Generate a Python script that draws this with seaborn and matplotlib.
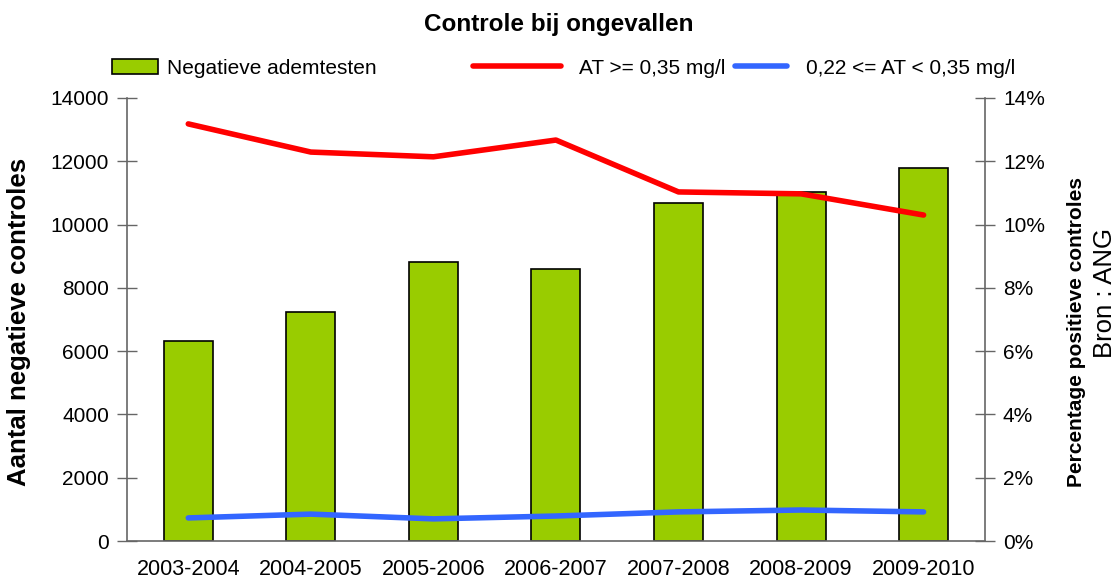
import numpy as np
import pandas as pd
import matplotlib
matplotlib.use("Agg")
import matplotlib.pyplot as plt
from matplotlib.patches import Patch
from matplotlib.lines import Line2D
from matplotlib.ticker import FuncFormatter, FixedLocator
import seaborn as sns

# --- data ---
seasons = ['2003-2004', '2004-2005', '2005-2006', '2006-2007',
           '2007-2008', '2008-2009', '2009-2010']
negative_tests = [6330, 7250, 8820, 8600, 10680, 11030, 11780]
pct_high = [13.18, 12.29, 12.14, 12.67, 11.03, 10.97, 10.30]   # AT >= 0,35 mg/l
pct_mid = [0.73, 0.85, 0.70, 0.79, 0.92, 0.98, 0.92]          # 0,22 <= AT < 0,35 mg/l

df = pd.DataFrame({'season': seasons, 'neg': negative_tests,
                   'high': pct_high, 'mid': pct_mid, 'pos': np.arange(len(seasons))})

sns.set_style('white')
plt.rcParams['font.family'] = ['Liberation Sans', 'DejaVu Sans']
plt.rcParams['text.color'] = 'black'
plt.rcParams['axes.labelcolor'] = 'black'

green = '#99CC00'
red = '#FF0000'
blue = '#3366FF'
axis_col = '#666666'

fig = plt.figure(figsize=(11.17, 5.83), dpi=100)
ax = fig.add_axes([0.1137, 0.072, 0.768, 0.760])

sns.barplot(data=df, x='season', y='neg', color=green, width=0.4,
            edgecolor='black', linewidth=1.2, saturation=1, ax=ax)
ax.set_xlim(-0.5, len(seasons) - 0.5)
ax.set_ylim(0, 14000)
ax.set_yticks(np.arange(0, 14001, 2000))
ax.set_xlabel('')
ax.set_ylabel('')

# x ticks at the category boundaries, labels in the middle
ax.xaxis.set_major_locator(FixedLocator(np.arange(-0.5, len(seasons), 1.0)))
ax.xaxis.set_minor_locator(FixedLocator(df['pos'].values))
ax.set_xticklabels([''] * (len(seasons) + 1))
ax.set_xticklabels(seasons, minor=True)
ax.tick_params(axis='x', which='major', direction='out', length=15, width=1, color=axis_col)
ax.tick_params(axis='x', which='minor', length=0, pad=13, labelsize=15.5, labelcolor='black')
ax.tick_params(axis='y', direction='inout', length=14, width=1, color=axis_col,
               labelsize=15, pad=6, labelcolor='black')

ax2 = ax.twinx()
sns.lineplot(data=df, x='pos', y='high', color=red, linewidth=4, ax=ax2)
sns.lineplot(data=df, x='pos', y='mid', color=blue, linewidth=4, ax=ax2)
ax2.set_ylim(0, 14)
ax2.set_yticks(np.arange(0, 15, 2))
ax2.yaxis.set_major_formatter(FuncFormatter(lambda v, p: f'{v:.0f}%'))
ax2.set_xlabel('')
ax2.set_ylabel('')
ax2.tick_params(axis='y', direction='inout', length=14, width=1, color=axis_col,
                labelsize=15, pad=6, labelcolor='black')

for a in (ax, ax2):
    a.spines['top'].set_visible(False)
    for s in ('left', 'right', 'bottom'):
        a.spines[s].set_color(axis_col)
        a.spines[s].set_linewidth(1.2)
ax.spines['right'].set_visible(False)
ax2.spines['left'].set_visible(False)
ax2.spines['bottom'].set_visible(False)

fig.text(0.5, 1 - 25 / 583, 'Controle bij ongevallen', ha='center', va='center',
         fontsize=17.5, fontweight='bold')
fig.text(19 / 1117, 1 - 322 / 583, 'Aantal negatieve controles', rotation=90,
         ha='center', va='center', fontsize=18.5, fontweight='bold')
fig.text(1077 / 1117, 1 - 332 / 583, 'Percentage positieve controles', rotation=90,
         ha='center', va='center', fontsize=15, fontweight='bold')
fig.text(1105 / 1117, 1 - 293 / 583, 'Bron : ANG', rotation=90,
         ha='center', va='center', fontsize=18.5)

# legend, three parts spread along the top
leg_y = 1 - 68 / 583
common = dict(loc='center left', frameon=False, fontsize=15, borderpad=0, borderaxespad=0)
l1 = fig.legend(handles=[Patch(facecolor=green, edgecolor='black', linewidth=1.2)],
                labels=['Negatieve ademtesten'], bbox_to_anchor=(112 / 1117, leg_y),
                handlelength=2.2, handleheight=0.75, handletextpad=0.45, **common)
l2 = fig.legend(handles=[Line2D([], [], color=red, linewidth=4)],
                labels=['AT >= 0,35 mg/l'], bbox_to_anchor=(473 / 1117, leg_y),
                handlelength=4.2, handletextpad=0.9, **common)
l3 = fig.legend(handles=[Line2D([], [], color=blue, linewidth=4)],
                labels=['0,22 <= AT < 0,35 mg/l'], bbox_to_anchor=(735 / 1117, leg_y),
                handlelength=2.5, handletextpad=0.9, **common)

fig.savefig('out.png', dpi=100)
